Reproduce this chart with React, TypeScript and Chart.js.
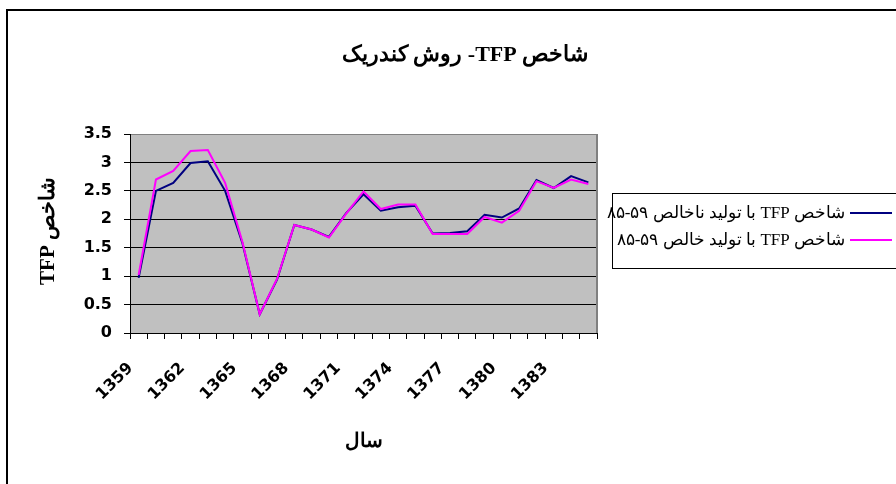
import React, { useEffect, useRef } from "react";
import { Chart, registerables } from "chart.js";

Chart.register(...registerables);

const years: string[] = [
  "1359", "1360", "1361", "1362", "1363", "1364", "1365", "1366", "1367",
  "1368", "1369", "1370", "1371", "1372", "1373", "1374", "1375", "1376",
  "1377", "1378", "1379", "1380", "1381", "1382", "1383", "1384", "1385",
];

const grossTFP: number[] = [
  0.97, 2.5, 2.64, 2.99, 3.02, 2.5, 1.58, 0.33, 0.94, 1.9, 1.82, 1.69, 2.11,
  2.44, 2.15, 2.21, 2.24, 1.75, 1.76, 1.79, 2.08, 2.03, 2.19, 2.69, 2.55, 2.76, 2.65,
];

const netTFP: number[] = [
  1.02, 2.7, 2.85, 3.2, 3.22, 2.64, 1.6, 0.33, 0.95, 1.9, 1.82, 1.68, 2.1,
  2.49, 2.18, 2.26, 2.26, 1.74, 1.74, 1.74, 2.04, 1.94, 2.15, 2.67, 2.55, 2.7, 2.62,
];

const seriesLabels: string[] = [
  "شاخص TFP با تولید ناخالص ۵۹-۸۵",
  "شاخص TFP با تولید خالص ۵۹-۸۵",
];
// visual (left-to-right) runs of each legend entry, right-to-left reading order
const seriesRuns: string[][] = [
  ["۸۵-۵۹", " ", "با تولید ناخالص", " ", "TFP", " ", "شاخص"],
  ["۸۵-۵۹", " ", "با تولید خالص", " ", "TFP", " ", "شاخص"],
];
const seriesColors: string[] = ["#000080", "#FF00FF"];

const chartTitle = "شاخص TFP- روش کندریک";
// visual (left-to-right) runs of the title, right-to-left reading order
const titleRuns: string[] = ["روش کندریک", " ", "-", "TFP", " ", "شاخص"];
const yTitleRuns: string[] = ["TFP", " ", "شاخص"];
const xTitle = "سال";

const W = 914;
const H = 490;

function drawRuns(ctx: CanvasRenderingContext2D, runs: string[], x: number, y: number, align: "left" | "center" | "right") {
  const widths = runs.map((r) => ctx.measureText(r).width);
  const total = widths.reduce((s, w) => s + w, 0);
  let cx = align === "left" ? x : align === "center" ? x - total / 2 : x - total;
  ctx.textAlign = "left";
  runs.forEach((r, i) => {
    if (r.trim()) ctx.fillText(r, cx, y);
    cx += widths[i];
  });
}

const decor = {
  id: "decor",
  beforeDraw(chart: any) {
    const { ctx, chartArea: a } = chart;
    ctx.save();
    ctx.fillStyle = "#C0C0C0";
    ctx.fillRect(a.left, a.top, a.right - a.left, a.bottom - a.top);
    ctx.restore();
  },
  beforeDatasetsDraw(chart: any) {
    const { ctx, chartArea: a } = chart;
    ctx.save();
    ctx.strokeStyle = "#808080";
    ctx.lineWidth = 2;
    ctx.beginPath();
    ctx.moveTo(a.right, a.top);
    ctx.lineTo(a.right, a.bottom);
    ctx.stroke();
    ctx.restore();
  },
  afterDraw(chart: any) {
    const { ctx, chartArea: a } = chart;
    ctx.save();
    ctx.direction = "ltr";
    ctx.fillStyle = "#000";
    ctx.textBaseline = "middle";
    ctx.font = 'bold 22px "Liberation Serif"';
    drawRuns(ctx, titleRuns, W / 2, 44, "center");

    ctx.font = 'bold 20px "Liberation Serif"';
    ctx.textAlign = "center";
    ctx.fillText(xTitle, (a.left + a.right) / 2, 431);

    ctx.save();
    ctx.translate(41, 220);
    ctx.rotate(-Math.PI / 2);
    ctx.font = 'bold 21px "Liberation Serif"';
    drawRuns(ctx, yTitleRuns, 0, 0, "center");
    ctx.restore();

    // legend
    const bx = 604, by = 182, bw = 320, bh = 75;
    ctx.strokeStyle = "#000";
    ctx.lineWidth = 1;
    ctx.strokeRect(bx + 0.5, by + 0.5, bw, bh);
    ctx.font = '17px "Liberation Serif"';
    chart.data.datasets.forEach((ds: any, i: number) => {
      const y = 202 + i * 27;
      ctx.strokeStyle = ds.borderColor;
      ctx.lineWidth = 2;
      ctx.beginPath();
      ctx.moveTo(842, y);
      ctx.lineTo(884, y);
      ctx.stroke();
      ctx.fillStyle = "#000";
      drawRuns(ctx, seriesRuns[i], 837, y + 1, "right");
    });
    ctx.restore();
  },
};

export default function App() {
  const ref = useRef<HTMLCanvasElement | null>(null);

  useEffect(() => {
    if (!ref.current) return;
    const tickFont = { family: '"DejaVu Sans"', size: 16, weight: "bold" as const };
    const chart = new Chart(ref.current, {
      type: "line",
      data: {
        labels: years,
        datasets: [
          {
            label: seriesLabels[0],
            data: grossTFP,
            borderColor: seriesColors[0],
            backgroundColor: seriesColors[0],
            borderWidth: 2,
            pointRadius: 0,
            tension: 0,
            order: 1,
          },
          {
            label: seriesLabels[1],
            data: netTFP,
            borderColor: seriesColors[1],
            backgroundColor: seriesColors[1],
            borderWidth: 2,
            pointRadius: 0,
            tension: 0,
            order: 0,
          },
        ],
      },
      options: {
        responsive: false,
        animation: false,
        devicePixelRatio: 1,
        layout: { padding: { left: 62, top: 123, right: 325, bottom: 68 } },
        plugins: {
          legend: { display: false },
          title: { display: false, text: chartTitle },
          tooltip: { enabled: false },
        },
        scales: {
          x: {
            type: "category",
            offset: true,
            afterFit: (s: any) => {
              s.height = 100;
            },
            grid: {
              offset: true,
              drawOnChartArea: false,
              drawTicks: true,
              tickLength: 6,
              color: "#000",
            },
            border: { color: "#000", width: 1 },
            ticks: {
              autoSkip: false,
              maxRotation: 45,
              minRotation: 45,
              padding: 20,
              labelOffset: -8,
              color: "#000",
              font: tickFont,
              callback: (_v: any, i: number) => (i % 3 === 0 ? years[i] : ""),
            },
          },
          y: {
            min: 0,
            max: 3.5,
            afterFit: (s: any) => {
              s.width = 60;
            },
            grid: {
              color: (c: any) => (c.tick && c.tick.value === 3.5 ? "#808080" : "#000"),
              tickColor: "#000",
              tickLength: 6,
              lineWidth: 1,
            },
            border: { color: "#000", width: 1 },
            ticks: {
              stepSize: 0.5,
              padding: 12,
              color: "#000",
              font: tickFont,
              callback: (v: any) => String(Number(v)),
            },
          },
        },
      },
      plugins: [decor],
    });
    return () => chart.destroy();
  }, []);

  return (
    <div
      style={{
        position: "fixed",
        left: 0,
        top: 0,
        width: 896,
        height: 484,
        overflow: "hidden",
        background: "#fff",
      }}
    >
      <div
        style={{
          position: "absolute",
          left: 6,
          top: 9,
          width: W + 10,
          height: H + 10,
          borderLeft: "2px solid #000",
          borderTop: "2px solid #000",
        }}
      >
        <canvas
          ref={ref}
          width={W}
          height={H}
          style={{ position: "absolute", left: 0, top: 0, width: W, height: H }}
        />
      </div>
    </div>
  );
}
